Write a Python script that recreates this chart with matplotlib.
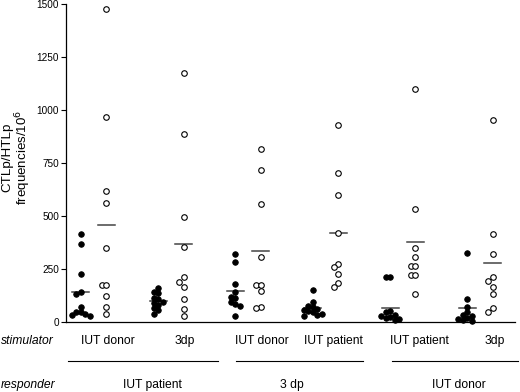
import numpy as np
import matplotlib
matplotlib.use("Agg")
import matplotlib.pyplot as plt

plt.rcParams['font.family'] = ['Liberation Sans', 'DejaVu Sans']

stimulators = ["IUT donor", "3dp", "IUT donor", "IUT patient", "IUT patient", "3dp"]
responders = ["IUT patient", "3 dp", "IUT donor"]

# CTLp (filled) and HTLp (open) frequencies / 10^6
ctlp = [
    [415, 370, 225, 140, 130, 70, 45, 40, 35, 30, 45],
    [160, 140, 135, 115, 110, 95, 90, 80, 65, 55, 40],
    [320, 285, 180, 140, 120, 115, 95, 85, 75, 30],
    [150, 95, 75, 70, 60, 55, 50, 45, 40, 35, 30],
    [212, 212, 50, 45, 35, 30, 25, 20, 15, 10],
    [325, 110, 70, 45, 35, 30, 20, 15, 10, 5],
]
htlp = [
    [1475, 965, 620, 560, 350, 175, 175, 125, 70, 40],
    [1175, 885, 495, 355, 210, 190, 165, 110, 60, 30],
    [815, 715, 555, 305, 175, 175, 145, 70, 65],
    [930, 705, 600, 420, 275, 260, 225, 185, 165],
    [1100, 535, 350, 305, 265, 265, 220, 220, 130],
    [955, 415, 320, 210, 195, 165, 130, 65, 45],
]
yticks = [0, 250, 500, 750, 1000, 1250, 1500]

W, H = 520, 392
fig = plt.figure(figsize=(W / 100, H / 100), dpi=100)
ax_l, ax_r, ax_b, ax_t = 66, 515, 322, 4
ax = fig.add_axes([ax_l / W, 1 - ax_b / H, (ax_r - ax_l) / W, (ax_b - ax_t) / H])

spacing = 77.3
x0 = 93.5
xmin = (ax_l - x0) / spacing
xmax = (ax_r - x0) / spacing
ax.set_xlim(xmin, xmax)
ax.set_ylim(0, 1500)

px_per_x = spacing
px_per_y = (ax_b - ax_t) / 1500.0
off = 12.7 / spacing


def swarm(vals, center):
    placed = []
    xs = np.zeros(len(vals))
    order = np.argsort(vals)[::-1]
    d = 4.5  # px
    for i in order:
        v = vals[i]
        for k in [0, -1, 1, -2, 2, -3, 3]:
            xp = k * d
            ok = True
            for (px, pv) in placed:
                dx = xp - px
                dy = (v - pv) * px_per_y
                if dx * dx + dy * dy < d * d:
                    ok = False
                    break
            if ok:
                break
        placed.append((xp, v))
        xs[i] = center + xp / px_per_x
    return xs


for g in range(6):
    cf = g - off
    co = g + off
    fv = np.array(ctlp[g], dtype=float)
    ov = np.array(htlp[g], dtype=float)
    ax.plot(swarm(fv, cf), fv, 'o', ms=4.0, mfc='black', mec='black', mew=0.6,
            ls='none', zorder=3, clip_on=False)
    ax.plot(swarm(ov, co), ov, 'o', ms=4.0, mfc='white', mec='black', mew=0.8,
            ls='none', zorder=3, clip_on=False)
    hw = 8.5 / px_per_x
    ax.plot([cf - hw, cf + hw], [fv.mean()] * 2, color='#444444', lw=1.1, zorder=2)
    ax.plot([co - hw, co + hw], [ov.mean()] * 2, color='#444444', lw=1.1, zorder=2)

for s in ['top', 'right']:
    ax.spines[s].set_visible(False)
ax.spines['left'].set_linewidth(0.9)
ax.spines['bottom'].set_linewidth(0.9)
ax.set_yticks(yticks)
ax.set_yticklabels([str(t) for t in yticks], fontsize=7.2)
ax.tick_params(axis='y', length=3.5, width=0.8, pad=1.5)
ax.set_xticks([])

fig.text(17 / W, 1 - 157 / H, "CTLp/HTLp\nfrequencies/10$^6$", rotation=90,
         ha='center', va='center', fontsize=9.6, multialignment='center',
         linespacing=1.0)

# stimulator row
stim_px = [108, 185, 262, 333, 419, 495]
for lab, xp in zip(stimulators, stim_px):
    fig.text(xp / W, 1 - 341 / H, lab, ha='center', va='center', fontsize=8.7)
fig.text(1 / W, 1 - 341 / H, "stimulator", ha='left', va='center', fontsize=8.7,
         style='italic')

# underlines
for a, b in [(68, 218), (236, 363), (392, 518)]:
    fig.add_artist(plt.Line2D([a / W, b / W], [1 - 361 / H] * 2, color='black',
                              lw=0.8, transform=fig.transFigure))

resp_px = [152, 292, 459]
for lab, xp in zip(responders, resp_px):
    fig.text(xp / W, 1 - 385 / H, lab, ha='center', va='center', fontsize=8.7)
fig.text(1 / W, 1 - 385 / H, "responder", ha='left', va='center', fontsize=8.7,
         style='italic')

fig.savefig("out.png", dpi=100)
